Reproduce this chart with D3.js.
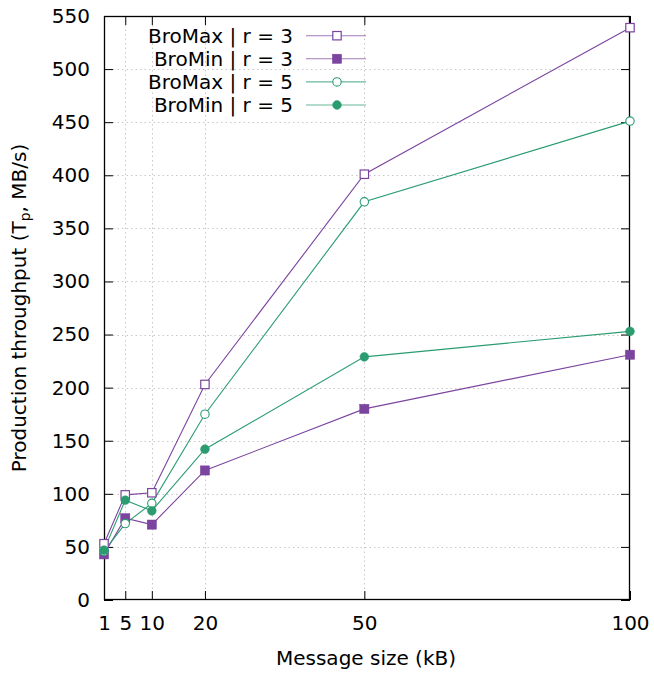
<!DOCTYPE html>
<html><head><meta charset="utf-8">
<script src="https://cdn.jsdelivr.net/npm/d3@7"></script>
<style>body{margin:0;background:#fff}svg{display:block;font-family:"DejaVu Sans",sans-serif}</style>
</head><body><svg id="c" width="654" height="674"></svg>
<script>
const xValues = [1, 5, 10, 20, 50, 100];
const xTicks = [1, 5, 10, 20, 50, 100];
const yTicks = [0, 50, 100, 150, 200, 250, 300, 350, 400, 450, 500, 550];
const seriesNames = ["BroMax | r = 3", "BroMin | r = 3", "BroMax | r = 5", "BroMin | r = 5"];
const broMaxR3 = [53, 99, 101, 203, 401, 539];
const broMinR3 = [43, 77, 71, 122, 180, 231];
const broMaxR5 = [46, 72, 91, 175, 375, 451];
const broMinR5 = [47, 94, 84, 142, 229, 253];

const purple = "#7b449f", green = "#2a9c70";
const series = [
  {name: seriesNames[0], values: broMaxR3, color: purple, shape: "square", filled: false},
  {name: seriesNames[1], values: broMinR3, color: purple, shape: "square", filled: true},
  {name: seriesNames[2], values: broMaxR5, color: green, shape: "circle", filled: false},
  {name: seriesNames[3], values: broMinR5, color: green, shape: "circle", filled: true}
];

const FS = 20;
const L = 104, R = 630, T = 16, B = 600;
const svg = d3.select("#c");
const x = d3.scaleLinear().domain([1, 100]).range([L, R]);
const y = d3.scaleLinear().domain([0, 550]).range([B, T]);

// grid
const g = svg.append("g");
g.selectAll(".gx").data(xTicks.slice(1, -1)).join("line")
  .attr("x1", d => Math.round(x(d)) + 0.5).attr("x2", d => Math.round(x(d)) + 0.5)
  .attr("y1", T).attr("y2", B).attr("stroke", "#c8c8c8").attr("stroke-dasharray", "1.5,3");
g.selectAll(".gy").data(yTicks.slice(1, -1)).join("line")
  .attr("y1", d => Math.round(y(d)) + 0.5).attr("y2", d => Math.round(y(d)) + 0.5)
  .attr("x1", L).attr("x2", R).attr("stroke", "#c8c8c8").attr("stroke-dasharray", "1.5,3");

// axes
const axL = d3.axisLeft(y).tickValues(yTicks).tickSizeInner(-9).tickSizeOuter(0).tickPadding(14);
const axR = d3.axisRight(y).tickValues(yTicks).tickSizeInner(-9).tickSizeOuter(0).tickFormat("");
const axB = d3.axisBottom(x).tickValues(xTicks).tickSizeInner(-9).tickSizeOuter(0).tickPadding(16);
const axT = d3.axisTop(x).tickValues(xTicks).tickSizeInner(-9).tickSizeOuter(0).tickFormat("");
function style(sel) {
  sel.select(".domain").remove();
  sel.selectAll("line").attr("stroke", "#000");
  sel.selectAll("text").attr("font-size", FS).attr("fill", "#000").attr("font-family", "DejaVu Sans");
}
svg.append("g").attr("transform", `translate(${L},0)`).call(axL).call(style);
svg.append("g").attr("transform", `translate(${R},0)`).call(axR).call(style);
svg.append("g").attr("transform", `translate(0,${B})`).call(axB).call(style);
svg.append("g").attr("transform", `translate(0,${T})`).call(axT).call(style);
svg.append("rect").attr("x", L + 0.5).attr("y", T + 0.5).attr("width", R - L - 1).attr("height", B - T - 1)
  .attr("fill", "none").attr("stroke", "#000").attr("stroke-width", 1.3);

// axis labels
svg.append("text").attr("x", 366).attr("y", 665).attr("text-anchor", "middle")
  .attr("font-size", FS).text("Message size (kB)");
const yl = svg.append("text").attr("transform", `translate(26,${(T + B) / 2}) rotate(-90)`)
  .attr("text-anchor", "middle").attr("font-size", FS);
yl.append("tspan").text("Production throughput (T");
yl.append("tspan").attr("font-size", 14).attr("dy", 4).text("p");
yl.append("tspan").attr("dy", -4).text(", MB/s)");

function marker(sel, s, cx, cy) {
  if (s.shape === "square") {
    const h = s.filled ? 4.6 : 4.2;
    sel.append("rect").attr("x", cx - h).attr("y", cy - h).attr("width", 2 * h).attr("height", 2 * h)
      .attr("fill", s.filled ? s.color : "#fff").attr("stroke", s.color).attr("stroke-width", s.filled ? 0.5 : 1.2);
  } else {
    sel.append("circle").attr("cx", cx).attr("cy", cy).attr("r", s.filled ? 4.4 : 4.2)
      .attr("fill", s.filled ? s.color : "#fff").attr("stroke", s.color).attr("stroke-width", s.filled ? 0.5 : 1.1);
  }
}

const line = d3.line().x((d, i) => x(xValues[i])).y(d => y(d));
series.forEach(s => {
  svg.append("path").attr("d", line(s.values)).attr("fill", "none").attr("stroke", s.color).attr("stroke-width", 1.1);
});
series.forEach(s => {
  const gm = svg.append("g");
  s.values.forEach((v, i) => marker(gm, s, x(xValues[i]), y(v)));
});

// legend
series.forEach((s, i) => {
  const ly = 35.7 + i * 23.1;
  svg.append("text").attr("x", 293).attr("y", ly + 7).attr("text-anchor", "end").attr("font-size", FS).text(s.name);
  svg.append("line").attr("x1", 306).attr("x2", 366).attr("y1", ly).attr("y2", ly).attr("stroke", s.color).attr("stroke-width", 1.1).attr("opacity", 0.7);
  marker(svg, s, 337, ly);
});
</script></body></html>
